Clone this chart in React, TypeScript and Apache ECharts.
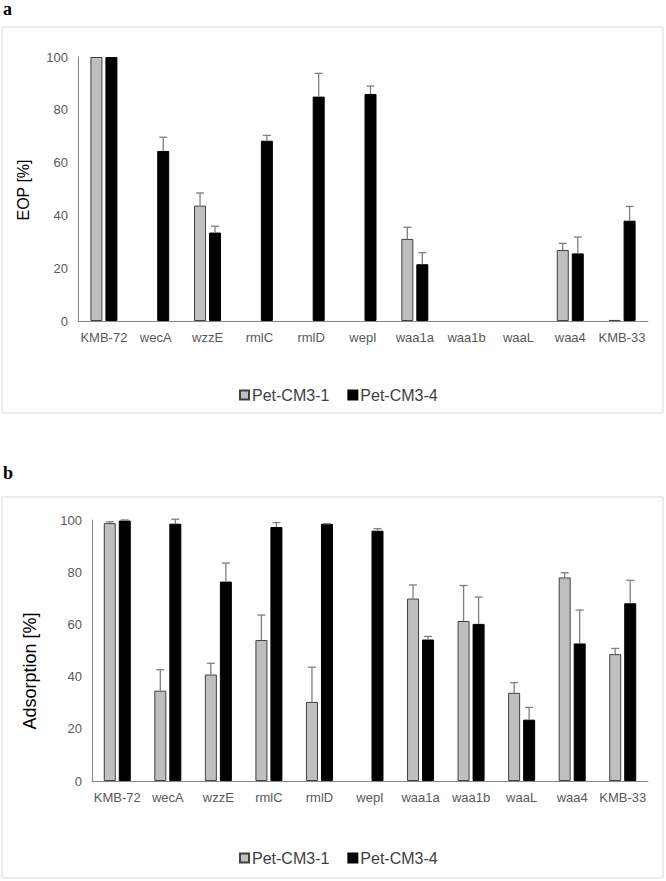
import React, { useEffect, useRef } from "react";
import * as echarts from "echarts";

const categories = ["KMB-72", "wecA", "wzzE", "rmlC", "rmlD", "wepI", "waa1a", "waa1b", "waaL", "waa4", "KMB-33"];
const seriesNames = ["Pet-CM3-1", "Pet-CM3-4"];
const yTicks = [0, 20, 40, 60, 80, 100];

// Panel a: EOP [%]
const eopCM31 = [100, 0, 43.7, 0, 0, 0, 31.1, 0, 0, 26.9, 0.4];
const eopCM31Err = [100, 0, 48.5, 0, 0, 0, 35.5, 0, 0, 29.4, 0.4];
const eopCM34 = [100, 64.4, 33.5, 68.3, 85.0, 86.0, 21.5, 0, 0, 25.6, 38.0];
const eopCM34Err = [100, 69.6, 35.9, 70.3, 93.8, 89.0, 25.9, 0, 0, 31.8, 43.4];

// Panel b: Adsorption [%]
const adsCM31 = [98.8, 34.6, 40.8, 54.0, 30.3, -0.3, 69.9, 61.3, 33.8, 78.0, 48.6];
const adsCM31Err = [99.3, 42.6, 45.1, 63.6, 43.6, -0.3, 75.1, 74.9, 37.7, 79.8, 50.8];
const adsCM34 = [99.8, 98.6, 76.4, 97.3, 98.5, 95.9, 54.2, 60.2, 23.5, 52.7, 68.1];
const adsCM34Err = [100, 100.3, 83.5, 99.0, 98.6, 96.7, 55.4, 70.5, 28.2, 65.5, 76.9];

const FONT = "'Liberation Sans', Arial, sans-serif";
const GREY = "#bfbfbf";
const AXIS = "#868686";
const LABEL = "#595959";

function errSeries(name: string, vals: number[], errs: number[], offset: number, axis: number) {
  return {
    type: "custom",
    name: name + " error",
    xAxisIndex: axis,
    yAxisIndex: axis,
    silent: true,
    z: 5,
    data: vals.map((v, i) => [i, v, errs[i]]),
    renderItem: (params: any, api: any) => {
      const idx = api.value(0);
      const v = api.value(1);
      const e = api.value(2);
      if (!(e > v + 0.05)) return null;
      const p0 = api.coord([idx, v]);
      const p1 = api.coord([idx, e]);
      const x = p0[0] + offset;
      const style = { stroke: "#7f7f7f", lineWidth: 1.3 };
      return {
        type: "group",
        children: [
          { type: "line", shape: { x1: x, y1: p0[1], x2: x, y2: p1[1] }, style },
          { type: "line", shape: { x1: x - 4, y1: p1[1], x2: x + 4, y2: p1[1] }, style },
        ],
      };
    },
  };
}

function barSeries(name: string, vals: number[], axis: number, color: string, border: string, bw: number) {
  return {
    type: "bar",
    name,
    xAxisIndex: axis,
    yAxisIndex: axis,
    barWidth: bw,
    barGap: "25%",
    data: vals.map((v) => (v === 0 ? { value: v, itemStyle: { borderWidth: 0 } } : v)),
    itemStyle: { color, borderColor: border, borderWidth: 1 },
  };
}

export default function App() {
  const ref = useRef<HTMLDivElement>(null);
  useEffect(() => {
    if (!ref.current) return;
    const chart = echarts.init(ref.current, undefined, { renderer: "svg" });
    const xAxisBase = (gi: number) => ({
      type: "category",
      gridIndex: gi,
      data: categories,
      axisLine: { show: true, lineStyle: { color: AXIS, width: 1 } },
      axisTick: { show: false },
      axisLabel: { interval: 0, color: LABEL, fontSize: 13, fontFamily: FONT, margin: 10 },
      splitLine: { show: false },
    });
    const yAxisBase = (gi: number) => ({
      type: "value",
      gridIndex: gi,
      min: 0,
      max: 100,
      interval: 20,
      axisLine: { show: true, lineStyle: { color: AXIS, width: 1 } },
      axisTick: { show: false },
      axisLabel: { color: LABEL, fontSize: 13, fontFamily: FONT, margin: 10 },
      splitLine: { show: false },
    });
    const legendBase = (top: number) => ({
      top,
      left: 234,
      icon: "rect",
      itemWidth: 9,
      itemHeight: 9,
      itemGap: 18,
      data: seriesNames,
      textStyle: { fontSize: 16, color: "#404040", fontFamily: FONT, padding: [0, 0, 0, -2] },
    });
    chart.setOption({
      animation: false,
      backgroundColor: "#ffffff",
      grid: [
        { left: 78, right: 18, top: 57, bottom: 881 - 321 },
        { left: 92, right: 18, top: 520, bottom: 881 - 781 },
      ],
      xAxis: [xAxisBase(0), xAxisBase(1)],
      yAxis: [yAxisBase(0), yAxisBase(1)],
      legend: [legendBase(382), legendBase(845)],
      graphic: [
        { type: "rect", shape: { x: 2, y: 27, width: 661, height: 386 }, style: { fill: "none", stroke: "#d9d9d9", lineWidth: 1 } },
        { type: "rect", shape: { x: 2, y: 497, width: 661, height: 381 }, style: { fill: "none", stroke: "#d9d9d9", lineWidth: 1 } },
        { type: "text", x: 3, y: 0, style: { text: "a", font: "bold 18px 'Liberation Serif', serif", fill: "#000", textVerticalAlign: "top" } },
        { type: "text", x: 3, y: 464, style: { text: "b", font: "bold 18px 'Liberation Serif', serif", fill: "#000", textVerticalAlign: "top" } },
        { type: "text", x: 23, y: 190, rotation: Math.PI / 2, style: { text: "EOP [%]", font: "16px 'Liberation Sans', Arial, sans-serif", fill: "#000", textAlign: "center", textVerticalAlign: "middle" } },
        { type: "text", x: 30, y: 671, rotation: Math.PI / 2, style: { text: "Adsorption [%]", font: "18px 'Liberation Sans', Arial, sans-serif", fill: "#000", textAlign: "center", textVerticalAlign: "middle" } },
      ],
      series: [
        barSeries(seriesNames[0], eopCM31, 0, GREY, "#404040", 12),
        barSeries(seriesNames[1], eopCM34, 0, "#000000", "#000000", 12),
        errSeries(seriesNames[0], eopCM31, eopCM31Err, -7.5, 0),
        errSeries(seriesNames[1], eopCM34, eopCM34Err, 7.5, 0),
        barSeries(seriesNames[0], adsCM31, 1, GREY, "#404040", 12),
        barSeries(seriesNames[1], adsCM34, 1, "#000000", "#000000", 12),
        errSeries(seriesNames[0], adsCM31, adsCM31Err, -7.5, 1),
        errSeries(seriesNames[1], adsCM34, adsCM34Err, 7.5, 1),
      ],
    });
    return () => chart.dispose();
  }, []);
  return <div ref={ref} style={{ position: "absolute", left: 0, top: 0, width: 666, height: 881 }} />;
}
